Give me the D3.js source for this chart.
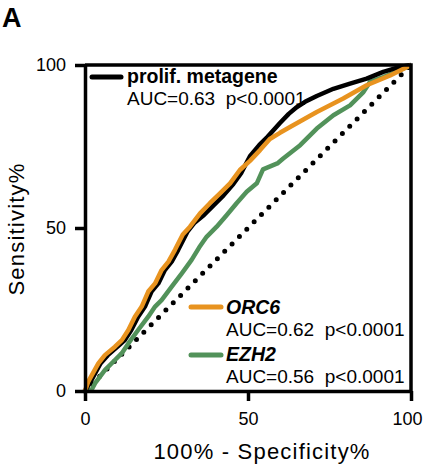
<!DOCTYPE html>
<html>
<head>
<meta charset="utf-8">
<script src="https://cdn.jsdelivr.net/npm/d3@7"></script>
<style>
  body { margin: 0; background: #fff; }
  text { font-family: "Liberation Sans", Arial, Helvetica, sans-serif; fill: #000; }
</style>
</head>
<body>
<script>
var w = 425;
var h = 465;

// ROC curves: [100% - specificity, sensitivity]
var metagene = [
    [0, 0], [1.5, 2.5], [4.8, 8.5], [7.0, 11.0], [10.0, 13.6], [12.2, 15.6],
    [14.2, 18.7], [16.3, 22.8], [18.4, 25.9], [20.4, 30.5], [22.5, 33.0],
    [24.5, 37.1], [26.6, 39.7], [28.6, 43.3], [31.5, 49.0], [33.5, 51.5],
    [36.5, 54.0], [39.5, 57.0], [42.5, 60.0], [45.5, 63.5], [48.0, 67.0],
    [50.6, 72.0], [53.5, 75.5], [56.0, 78.0], [59.8, 82.2], [62.5, 85.0],
    [65.0, 87.1], [67.5, 88.7], [71.1, 90.5], [76.2, 92.7], [81.3, 94.3],
    [86.4, 95.8], [91.5, 97.9], [96.6, 99.4], [100, 100]
];
var orc6 = [
    [0, 0], [1.0, 2.9], [4.1, 8.5], [6.1, 11.0], [9.2, 13.6], [11.3, 15.6],
    [13.3, 18.7], [15.3, 22.8], [17.4, 25.9], [19.4, 30.5], [21.5, 33.0],
    [23.5, 37.1], [25.6, 39.7], [27.6, 43.3], [30.0, 48.0], [32.2, 50.4],
    [35.3, 54.5], [38.3, 57.6], [41.4, 60.6], [44.5, 63.7], [47.5, 67.8],
    [50.6, 70.6], [53.7, 73.9], [56.7, 77.3], [59.8, 79.2], [62.9, 81.0],
    [67.0, 83.3], [71.1, 85.6], [79.2, 89.7], [86.4, 93.8], [93.6, 96.8],
    [100, 100]
];
var ezh2 = [
    [0, 0], [2.0, 0.3], [3.1, 2.4], [6.1, 6.4], [9.2, 9.5], [11.3, 11.6],
    [13.3, 14.6], [16.3, 18.7], [19.4, 22.8], [21.5, 25.9], [23.5, 27.9],
    [26.6, 32.0], [29.7, 36.1], [32.7, 40.2], [35.0, 44.0], [37.3, 47.3],
    [40.4, 50.4], [43.5, 54.0], [46.5, 57.6], [49.6, 61.1], [52.7, 63.7],
    [54.6, 68.0], [59.0, 69.8], [60.8, 71.3], [66.0, 75.4], [71.1, 80.5],
    [76.2, 84.6], [81.3, 87.6], [85.4, 91.7], [87.4, 94.8], [91.5, 96.3],
    [96.6, 98.4], [100, 100]
];
var chance = [[0, 0], [100, 100]];
var ticks = [0, 50, 100];

var series = [
    { name: "EZH2", auc: "AUC=0.56  p<0.0001", data: ezh2, color: "#52925a" },
    { name: "prolif. metagene", auc: "AUC=0.63  p<0.0001", data: metagene, color: "#000" },
    { name: "ORC6", auc: "AUC=0.62  p<0.0001", data: orc6, color: "#e8931f" }
];

var svg = d3.select("body").append("svg").attr("width", w).attr("height", h);

var x = d3.scaleLinear().domain([0, 100]).range([85, 411]);
var y = d3.scaleLinear().domain([0, 100]).range([391, 65]);

// panel letter
svg.append("text").attr("x", 2).attr("y", 27)
    .attr("font-family", "Liberation Sans")
    .attr("font-size", "27px").attr("font-weight", "bold").text("A");

var line = d3.line().x(d => x(d[0])).y(d => y(d[1]));

// chance diagonal
svg.append("path").attr("d", line(chance))
    .attr("fill", "none").attr("stroke", "#000")
    .attr("stroke-width", 5).attr("stroke-linecap", "round")
    .attr("stroke-dasharray", "0 10.4");

svg.selectAll("path.roc")
    .data(series).enter()
    .append("path").attr("class", "roc")
    .attr("d", d => line(d.data))
    .attr("fill", "none")
    .attr("stroke", d => d.color)
    .attr("stroke-width", 4.5)
    .attr("stroke-linejoin", "round");

// frame top + right
svg.append("path")
    .attr("d", "M" + x(0) + "," + y(100) + "H" + x(100) + "V" + y(0))
    .attr("fill", "none").attr("stroke", "#000").attr("stroke-width", 3.5);

var xAxis = d3.axisBottom(x).tickValues(ticks).tickSize(10).tickSizeOuter(0).tickPadding(11);
var yAxis = d3.axisLeft(y).tickValues(ticks).tickSize(10).tickSizeOuter(0).tickPadding(9);

var gx = svg.append("g").attr("transform", "translate(0," + y(0) + ")").call(xAxis);
var gy = svg.append("g").attr("transform", "translate(" + x(0) + ",0)").call(yAxis);

[gx, gy].forEach(g => {
    g.select(".domain").attr("stroke-width", 3.5);
    g.selectAll(".tick line").attr("stroke-width", 3.5);
    g.selectAll(".tick text").attr("font-size", "18px")
        .attr("font-family", "Liberation Sans, Arial, sans-serif");
});
gx.selectAll(".tick text").filter(d => d === 100).attr("dx", -4);

// axis titles
svg.append("text").attr("x", 262).attr("y", 459)
    .attr("text-anchor", "middle").attr("font-size", "22px")
    .attr("letter-spacing", "1.2px")
    .text("100% - Specificity%");
svg.append("text")
    .attr("transform", "translate(24,229) rotate(-90)")
    .attr("text-anchor", "middle").attr("font-size", "22px")
    .attr("letter-spacing", "1.2px")
    .text("Sensitivity%");

// legends
var legendPos = [
    { s: series[1], lx: 92, lx2: 121, ly: 77, tx: 127, ty: 83 },
    { s: series[2], lx: 191, lx2: 221, ly: 307, tx: 226, ty: 314 },
    { s: series[0], lx: 191, lx2: 221, ly: 355, tx: 226, ty: 361 }
];
var lg = svg.selectAll("g.legend").data(legendPos).enter()
    .append("g").attr("class", "legend");
lg.append("line")
    .attr("x1", d => d.lx).attr("x2", d => d.lx2)
    .attr("y1", d => d.ly).attr("y2", d => d.ly)
    .attr("stroke", d => d.s.color).attr("stroke-width", 5)
    .attr("stroke-linecap", "round");
lg.append("text")
    .attr("x", d => d.tx).attr("y", d => d.ty)
    .attr("font-family", "Liberation Sans")
    .attr("font-size", "19.5px").attr("font-weight", "bold")
    .attr("font-style", d => d.s.name === "prolif. metagene" ? "normal" : "italic")
    .text(d => d.s.name);
lg.append("text")
    .attr("x", d => d.tx).attr("y", d => d.ty + 22)
    .attr("font-size", "19px")
    .style("white-space", "pre")
    .text(d => d.s.auc);
</script>
</body>
</html>
